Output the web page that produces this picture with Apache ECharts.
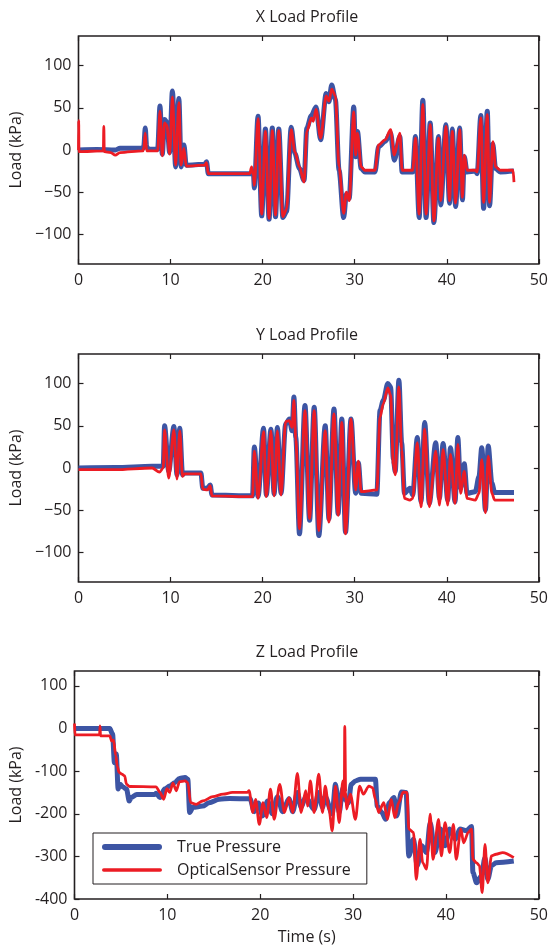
<!DOCTYPE html>
<html>
<head>
<meta charset="utf-8">
<script src="https://cdn.jsdelivr.net/npm/echarts@6/dist/echarts.min.js"></script>
<style>
  html, body { margin: 0; padding: 0; background: #fff; }
  #chart { width: 551px; height: 948px; }
</style>
</head>
<body>
<div id="chart"></div>
<script>
// tick labels
const timeTicks = [0, 10, 20, 30, 40, 50]
const xyLoadTicks = [-100, -50, 0, 50, 100]
const zLoadTicks = [-400, -300, -200, -100, 0, 100]

// X load profile [time (s), load (kPa)]
const xTrue = [[0,0],[2,0.5],[4,0],[4.5,2],[7,2],[7.1,5],[7.25,26],[7.4,4],[7.6,1],[8.6,1],[8.85,52],[9.1,-5],[9.35,36],[9.6,33],[9.9,-3],[10.2,70],[10.55,-20],[10.9,61],[11.15,-20],[11.45,6],[11.7,-18],[13.7,-17],[13.9,-14],[14.1,-28],[16,-28],[19,-28],[19.1,-45],[19.5,40],[19.9,-78],[20.3,25],[20.7,-82],[21.05,26],[21.4,-79],[21.75,25],[22.2,-80],[22.6,-73],[23.1,27],[23.5,-4],[24,-22],[24.5,-36],[24.8,26],[25.3,41],[25.8,51],[26.3,12],[26.9,67],[27.2,57],[27.5,77],[27.9,60],[28.3,-24],[28.8,-80],[29.1,-52],[29.4,-57],[29.9,51],[30.1,-8],[30.3,22],[30.7,-22],[31.1,-26],[32.2,-26],[32.6,4],[33.3,10],[33.9,20],[34.3,-12],[34.9,16],[35.15,-26],[36.3,-26],[36.6,16],[37,-80],[37.4,59],[37.75,-80],[38.2,32],[38.6,-86],[39.1,16],[39.35,-65],[39.9,30],[40.3,-63],[40.6,25],[40.96,-67],[41.4,26],[41.7,-59],[41.9,-8],[42.2,-26],[43.1,-25],[43.3,-28],[43.7,41],[44,-69],[44.4,46],[44.65,-66],[45,7],[45.3,-22],[45.8,-26],[47.3,-25]]
const xOptical = [[0,0],[0.02,35],[0.05,-2],[2.7,-1],[2.75,28],[2.8,-2],[3.5,-3],[4,-6],[4.5,-3],[7,-1],[7.1,3],[7.25,20],[7.4,-1],[8.6,-1],[8.85,46],[9.1,-7],[9.35,32],[9.6,29],[9.9,-5],[10.2,63],[10.55,-18],[10.9,56],[11.15,-18],[11.45,2],[11.7,-19],[13.7,-18],[13.9,-15],[14.1,-28],[18.6,-28],[18.8,-20],[19,-30],[19.1,-42],[19.5,37],[19.9,-76],[20.3,22],[20.7,-81],[21.05,23],[21.4,-77],[21.75,23],[22.2,-79],[22.6,-70],[23.1,24],[23.5,-2],[24,-20],[24.5,-38],[24.8,22],[25.3,38],[25.5,34],[25.8,48],[26.3,14],[26.9,64],[27.2,58],[27.5,72],[27.9,64],[28.3,-20],[28.8,-75],[29.1,-50],[29.4,-60],[29.9,45],[30.1,-6],[30.3,20],[30.7,-20],[31.1,-24],[32.2,-24],[32.6,6],[33.3,12],[33.9,24],[34.3,-6],[34.9,20],[35.15,-24],[36.3,-24],[36.6,14],[37,-76],[37.4,54],[37.75,-76],[38.2,30],[38.6,-84],[39.1,14],[39.35,-60],[39.9,28],[40.3,-60],[40.6,22],[40.96,-63],[41.4,24],[41.7,-56],[41.9,-6],[42.2,-24],[43.1,-24],[43.3,-26],[43.7,38],[44,-62],[44.4,42],[44.65,-62],[45,10],[45.3,-20],[45.8,-24],[47.2,-24],[47.3,-38]]

// Y load profile
const yTrue = [[0,0],[4,0.5],[8,2],[9.2,2],[9.35,50],[9.8,-4],[10.36,49],[10.7,-8],[11,47],[11.3,-8],[11.5,-6],[13.3,-6],[13.5,-24],[14,-24],[14.3,-20],[14.5,-32],[18.9,-33],[19.1,25],[19.5,-34],[20.1,47],[20.4,-32],[20.9,46],[21.25,-31],[21.6,48],[22,-30],[22.5,52],[22.9,58],[23.2,44],[23.4,84],[23.6,36],[24,-78],[24.6,74],[25.1,-62],[25.6,72],[26.1,-80],[26.8,50],[27.2,-60],[27.75,70],[28.2,-54],[28.6,58],[29,-76],[29.6,58],[30.1,-30],[30.4,6],[30.7,-30],[32.4,-31],[32.75,68],[33.1,80],[33.6,100],[33.9,96],[34.2,10],[34.4,-4],[34.8,104],[35.1,30],[35.4,-30],[36,-24],[36.3,-32],[36.8,36],[37.2,-40],[37.6,54],[38.1,-42],[38.8,30],[39.2,-36],[39.6,29],[40.1,-38],[40.4,24],[40.9,-40],[41.2,36],[41.5,-24],[41.9,5],[42.2,-30],[43.1,-28],[43.5,-10],[43.8,24],[44.2,-50],[44.5,26],[44.9,-18],[45.2,-29],[47.3,-29]]
const yOptical = [[0,-2],[4,-2],[8,0],[8.8,-5],[9.2,0],[9.35,45],[9.8,-12],[10.36,45],[10.7,-13],[11,44],[11.3,-10],[11.5,-7],[13.3,-7],[13.5,-25],[14,-26],[14.3,-21],[14.5,-33],[18.9,-34],[19.1,20],[19.5,-36],[20.1,43],[20.4,-34],[20.9,44],[21.25,-33],[21.6,44],[22,-32],[22.5,55],[22.9,56],[23.2,48],[23.4,80],[23.6,34],[24,-72],[24.6,68],[25.1,-60],[25.6,68],[26.1,-74],[26.8,44],[27.2,-64],[27.75,64],[28.2,-56],[28.6,54],[29,-78],[29.6,58],[30.1,-26],[30.4,8],[30.7,-28],[32.4,-26],[32.75,60],[33.1,76],[33.6,95],[33.9,86],[34.2,4],[34.4,-8],[34.8,96],[35.1,22],[35.4,-36],[36,-38],[36.3,-36],[36.8,30],[37.2,-46],[37.6,46],[38.1,-46],[38.8,20],[39.2,-44],[39.6,22],[40.1,-44],[40.4,16],[40.9,-42],[41.2,28],[41.5,-30],[41.9,-4],[42.2,-36],[43.1,-38],[43.5,-30],[43.8,10],[44.2,-53],[44.5,14],[44.9,-30],[45.2,-38],[47.3,-38]]

// Z load profile
const zTrue = [[0,0],[3.8,0],[4.1,-13],[4.3,-80],[4.5,-60],[4.7,-142],[4.9,-131],[5.25,-138],[5.6,-142],[5.9,-170],[6.1,-162],[6.7,-155],[8.6,-155],[8.8,-152],[9.2,-162],[9.7,-142],[10.25,-135],[10.8,-127],[11.3,-117],[11.9,-115],[12.2,-119],[12.4,-197],[12.75,-185],[13.8,-182],[14.5,-174],[15.6,-166],[16.7,-164],[18.9,-165],[19.35,-195],[19.8,-175],[20.25,-205],[20.8,-170],[21.3,-200],[21.85,-160],[22.4,-195],[22.57,-185],[23.1,-165],[23.5,-195],[24,-150],[24.4,-185],[24.9,-160],[25.8,-190],[26.3,-150],[26.7,-185],[27,-160],[27.75,-200],[28.1,-131],[28.5,-197],[28.9,-140],[29.1,-166],[29.5,-174],[29.8,-131],[30.25,-123],[30.8,-119],[32.4,-119],[32.6,-182],[33.1,-197],[33.5,-213],[33.9,-174],[34.4,-162],[34.7,-205],[35.2,-149],[35.7,-150],[36,-299],[36.5,-260],[36.9,-322],[37.4,-275],[37.9,-291],[38.3,-221],[38.8,-291],[39.4,-236],[39.9,-275],[40.4,-236],[41,-260],[41.5,-236],[42.2,-240],[42.75,-230],[42.9,-338],[43.3,-362],[43.8,-346],[44.2,-303],[44.5,-354],[44.9,-322],[45.4,-315],[47.3,-311]]
const zOptical = [[0,12],[0.05,-15],[2.7,-15],[2.75,6],[2.8,-17],[3.8,-17],[4,-29],[4.2,-27],[4.45,-64],[4.6,-88],[4.8,-103],[5.1,-107],[5.4,-111],[5.6,-131],[5.95,-136],[8.8,-137],[9.2,-150],[9.6,-166],[9.96,-141],[10.25,-150],[10.6,-128],[10.96,-146],[11.3,-125],[11.9,-123],[12.2,-127],[12.5,-174],[13.1,-178],[13.8,-170],[14.9,-160],[16,-154],[17,-150],[18.6,-150],[18.8,-146],[19.2,-197],[19.5,-166],[19.9,-225],[20.3,-174],[20.7,-209],[21.1,-142],[21.5,-213],[22.1,-131],[22.6,-197],[23.1,-162],[23.5,-197],[24,-105],[24.4,-197],[24.9,-146],[25.1,-182],[25.4,-123],[25.8,-197],[26.3,-107],[26.7,-197],[27,-135],[27.4,-189],[27.75,-240],[28.1,-135],[28.5,-221],[28.9,-123],[29.05,-160],[29.1,5],[29.2,-150],[29.3,-189],[29.7,-154],[30.25,-213],[30.7,-135],[31.1,-154],[31.7,-135],[32.1,-139],[32.4,-166],[32.75,-197],[33.3,-174],[33.7,-213],[34.1,-166],[34.5,-209],[34.9,-174],[35.4,-149],[35.8,-150],[36,-236],[36.5,-244],[36.8,-354],[37.2,-260],[37.5,-315],[37.9,-330],[38.3,-201],[38.6,-307],[39.2,-213],[39.5,-299],[39.9,-221],[40.4,-291],[40.8,-225],[41.1,-307],[41.6,-236],[41.9,-268],[42.4,-244],[42.75,-236],[42.9,-307],[43.3,-315],[43.6,-322],[43.9,-385],[44.2,-272],[44.5,-362],[44.9,-299],[45.4,-295],[46.1,-291],[47.3,-303]]

const panels = [
  { title: 'X Load Profile', top: 36, min: -135, max: 135, ticks: xyLoadTicks, minus: true, truth: xTrue, optical: xOptical },
  { title: 'Y Load Profile', top: 354, min: -135, max: 135, ticks: xyLoadTicks, minus: true, truth: yTrue, optical: yOptical },
  { title: 'Z Load Profile', top: 671, min: -400, max: 135, ticks: zLoadTicks, minus: false, truth: zTrue, optical: zOptical },
]

const ink = '#231f20'
const font = '"Open Sans", "Noto Sans", sans-serif'
const blue = '#3d55a4'
const red = '#ec1c24'

const chart = echarts.init(document.getElementById('chart'), null, { renderer: 'canvas' })

const grid = [], xAxis = [], yAxis = [], title = [], series = []
panels.forEach((p, i) => {
  grid.push({ left: 74, right: 10, top: p.top, height: 228, show: true, borderColor: ink, borderWidth: 1.6, backgroundColor: 'transparent' })
  title.push({
    text: p.title, left: 307, top: p.top - 27, textAlign: 'center', padding: 0,
    textStyle: { fontFamily: font, fontSize: 16, fontWeight: 'normal', color: ink },
  })
  const tick = { show: true, inside: true, length: 5, lineStyle: { color: ink, width: 1.2 } }
  const noLine = { show: false, onZero: false }
  // bottom + top time axes
  xAxis.push({
    gridIndex: i, type: 'value', min: 0, max: 50, interval: 10, position: 'bottom',
    axisLine: noLine, splitLine: { show: false }, axisTick: tick,
    axisLabel: { color: ink, fontFamily: font, fontSize: 16, margin: 8 },
    name: i === 2 ? 'Time (s)' : '', nameLocation: 'middle', nameGap: 30,
    nameTextStyle: { color: ink, fontFamily: font, fontSize: 16 },
  })
  xAxis.push({
    gridIndex: i, type: 'value', min: 0, max: 50, interval: 10, position: 'top',
    axisLine: noLine, splitLine: { show: false }, axisTick: tick, axisLabel: { show: false },
  })
  // left + right load axes
  yAxis.push({
    gridIndex: i, type: 'value', min: p.min, max: p.max, position: 'left',
    axisLine: noLine, splitLine: { show: false },
    axisTick: Object.assign({ customValues: p.ticks }, tick),
    axisLabel: {
      customValues: p.ticks, color: ink, fontFamily: font, fontSize: 16, margin: 7,
      formatter: v => p.minus ? String(v).replace('-', '\u2212') : String(v),
    },
    name: 'Load (kPa)', nameLocation: 'middle', nameGap: 43,
    nameTextStyle: { color: ink, fontFamily: font, fontSize: 16 },
  })
  yAxis.push({
    gridIndex: i, type: 'value', min: p.min, max: p.max, position: 'right',
    axisLine: noLine, splitLine: { show: false },
    axisTick: Object.assign({ customValues: p.ticks }, tick),
    axisLabel: { show: false, customValues: p.ticks },
  })
  series.push({
    name: 'True Pressure', type: 'line', xAxisIndex: i * 2, yAxisIndex: i * 2,
    data: p.truth, symbol: 'none', clip: true, smooth: 0.3, smoothMonotone: 'x',
    lineStyle: { color: blue, width: 5 }, itemStyle: { color: blue },
  })
  series.push({
    name: 'OpticalSensor Pressure', type: 'line', xAxisIndex: i * 2, yAxisIndex: i * 2,
    data: p.optical, symbol: 'none', clip: true, smooth: 0.3, smoothMonotone: 'x',
    lineStyle: { color: red, width: 2.8 }, itemStyle: { color: red },
  })
})

chart.setOption({
  animation: false,
  backgroundColor: '#fff',
  title,
  grid,
  xAxis,
  yAxis,
  series,
  legend: {
    orient: 'vertical', left: 93, top: 833,
    borderColor: ink, borderWidth: 1, padding: [6, 16, 6, 9],
    itemWidth: 60, itemHeight: 18, itemGap: 7, backgroundColor: '#fff',
    symbolKeepAspect: true,
    textStyle: { color: ink, fontFamily: font, fontSize: 16, padding: [0, 0, 0, 10] },
    data: [
      { name: 'True Pressure', icon: 'path://M3,0H57A3,3 0 0 1 57,6H3A3,3 0 0 1 3,0Z' },
      { name: 'OpticalSensor Pressure', icon: 'path://M2,0H58A1.75,1.75 0 0 1 58,3.5H2A1.75,1.75 0 0 1 2,0Z' },
    ],
  },
})
</script>
</body>
</html>
